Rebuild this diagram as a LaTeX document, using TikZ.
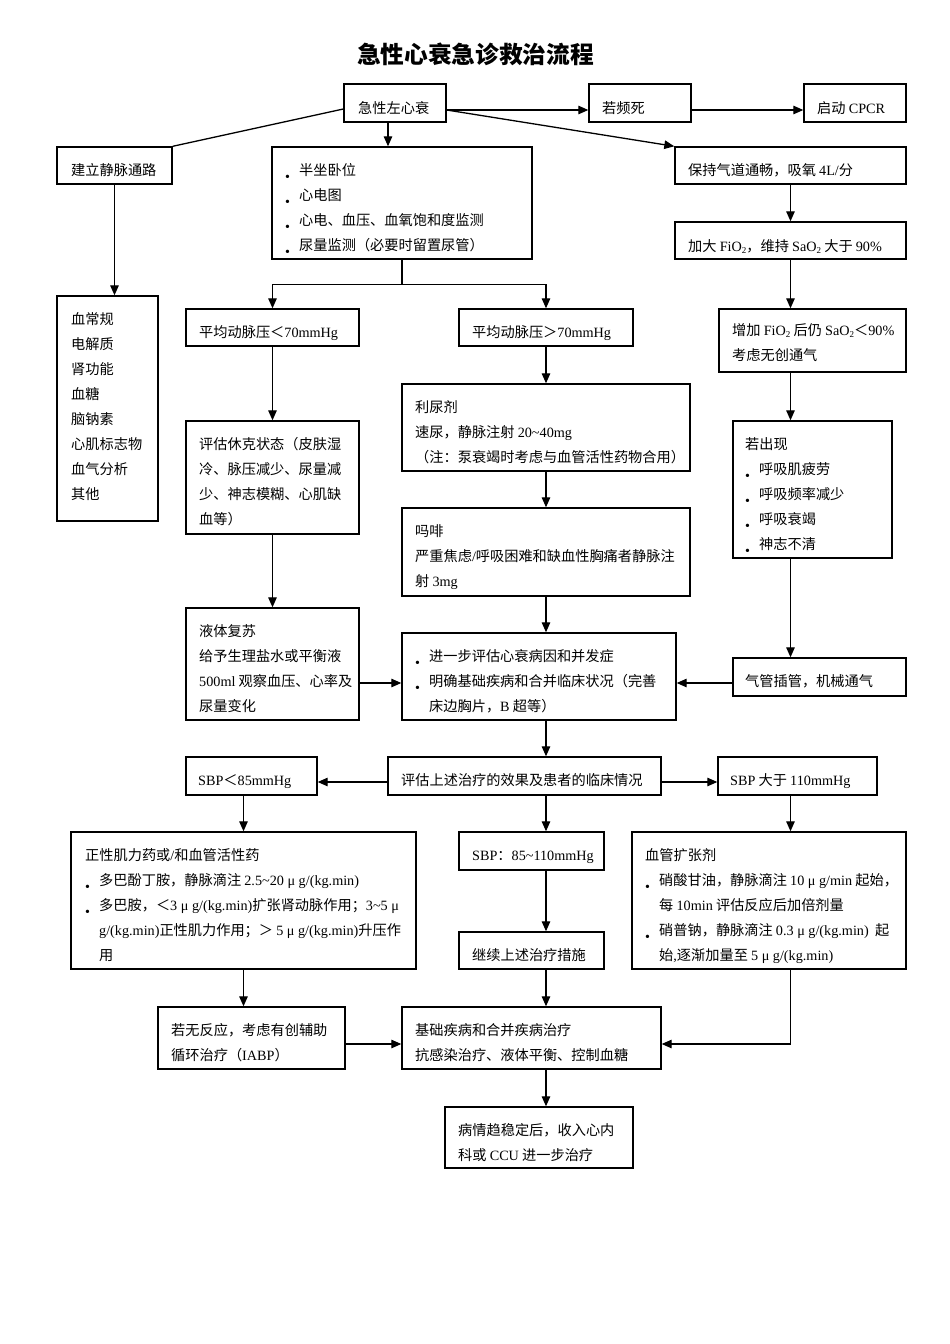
\documentclass[tikz,border=0pt]{standalone}
\usepackage{fontspec}
\setmainfont{Noto Sans CJK SC}
\newfontfamily\enfont{Liberation Serif}
\usetikzlibrary{arrows.meta,calc}
\newcommand\ltn[1]{{\enfont #1}}
\newcommand\sub[1]{\raisebox{-2.5pt}{\fontsize{9}{9}\selectfont #1}}
\newcommand\fsz{\fontsize{14.2pt}{25pt}\selectfont}
\newcommand\bu{\makebox[14pt][l]{\raisebox{-6.5pt}{\ltn{\fontsize{14}{14}\selectfont •}}}}
\newcommand\ind{\makebox[14pt]{}}
\newcommand\tld{\textasciitilde}
\tikzset{
  boxs/.style={draw, line width=1.4pt, rectangle, inner sep=0pt},
  txt/.style={anchor=base west, inner sep=0pt, align=left, font=\fsz},
  ln/.style={line width=1.3pt},
  arr/.style={line width=1.3pt, -{Triangle[length=10pt,width=8.5pt]}},
}
\newcommand\bx[5]{\node[boxs, minimum width={(#4-#2)*1pt}, minimum height={(#5-#3)*1pt}] (#1) at ({(#2+#4)/2},{(#3+#5)/2}) {};}
% name, x, y of first baseline, number of lines, text (node base = last baseline)
\newcommand\tx[5]{\node[txt] (#1) at (#2,{#3+(#4-1)*25}) {#5};}
\begin{document}
\begin{tikzpicture}[x=1pt,y=-1pt]
\fill[white] (0,0) rectangle (950,1344);
\useasboundingbox (0,0) rectangle (950,1344);
\node[anchor=base, inner sep=0pt] (title) at (475.5,63) {\fontsize{23.7pt}{28pt}\selectfont\bfseries 急性心衰急诊救治流程};
% boxes
\bx{A}{344}{84}{446}{122}
\bx{B}{589}{84}{691}{122}
\bx{C}{804}{84}{906}{122}
\bx{D}{57}{147}{172}{184}
\bx{E}{272}{147}{532}{259}
\bx{F}{675}{147}{906}{184}
\bx{G}{675}{222}{906}{259}
\bx{H}{57}{296}{158}{521}
\bx{I}{186}{309}{359}{346}
\bx{J}{459}{309}{633}{346}
\bx{K}{719}{309}{906}{372}
\bx{L}{402}{384}{690}{471}
\bx{M}{186}{421}{359}{534}
\bx{N}{733}{421}{892}{558}
\bx{O}{402}{508}{690}{596}
\bx{P}{186}{608}{359}{720}
\bx{Q}{402}{633}{676}{720}
\bx{R}{733}{658}{906}{696}
\bx{S}{388}{757}{661}{795}
\bx{T}{186}{757}{317}{795}
\bx{U}{718}{757}{877}{795}
\bx{V}{71}{832}{416}{969}
\bx{W}{459}{832}{604}{870}
\bx{X}{632}{832}{906}{969}
\bx{Y}{459}{932}{604}{969}
\bx{Z}{158}{1007}{345}{1069}
\bx{AA}{402}{1007}{661}{1069}
\bx{AB}{445}{1107}{633}{1168}
% texts
\tx{tA}{358}{113}{1}{急性左心衰}
\tx{tB}{602}{113}{1}{若频死}
\tx{tC}{817}{113}{1}{启动 \ltn{CPCR}}
\tx{tD}{71}{175}{1}{建立静脉通路}
\tx{tE}{285}{175}{4}{\bu 半坐卧位\\ \bu 心电图\\ \bu 心电、血压、血氧饱和度监测\\ \bu 尿量监测（必要时留置尿管）}
\tx{tF}{688}{175}{1}{保持气道通畅，吸氧 \ltn{4L/}分}
\tx{tG}{688}{251}{1}{加大 \ltn{FiO\sub{2}}，维持 \ltn{SaO\sub{2}} 大于 \ltn{90\%}}
\tx{tH}{71}{324}{8}{血常规\\电解质\\肾功能\\血糖\\脑钠素\\心肌标志物\\血气分析\\其他}
\tx{tI}{199}{337}{1}{平均动脉压＜\ltn{70mmHg}}
\tx{tJ}{472}{337}{1}{平均动脉压＞\ltn{70mmHg}}
\tx{tK}{732}{335}{2}{增加 \ltn{FiO\sub{2}} 后仍 \ltn{SaO\sub{2}}＜\ltn{90\%}\\考虑无创通气}
\tx{tL}{415}{412}{3}{利尿剂\\速尿，静脉注射 \ltn{20\tld40mg}\\（注：泵衰竭时考虑与血管活性药物合用）}
\tx{tM}{199}{449}{4}{评估休克状态（皮肤湿\\冷、脉压减少、尿量减\\少、神志模糊、心肌缺\\血等）}
\tx{tN}{745}{449}{5}{若出现\\ \bu 呼吸肌疲劳\\ \bu 呼吸频率减少\\ \bu 呼吸衰竭\\ \bu 神志不清}
\tx{tO}{415}{536}{3}{吗啡\\严重焦虑\ltn{/}呼吸困难和缺血性胸痛者静脉注\\射 \ltn{3mg}}
\tx{tP}{199}{636}{4}{液体复苏\\给予生理盐水或平衡液\\\ltn{500ml} 观察血压、心率及\\尿量变化}
\tx{tQ}{415}{661}{3}{\bu 进一步评估心衰病因和并发症\\ \bu 明确基础疾病和合并临床状况（完善\\ \ind 床边胸片，\ltn{B} 超等）}
\tx{tR}{745}{686}{1}{气管插管，机械通气}
\tx{tS}{401}{785}{1}{评估上述治疗的效果及患者的临床情况}
\tx{tT}{198}{785}{1}{\ltn{SBP}＜\ltn{85mmHg}}
\tx{tU}{730}{785}{1}{\ltn{SBP} 大于 \ltn{110mmHg}}
\tx{tV}{85}{860}{5}{正性肌力药或\ltn{/}和血管活性药\\ \bu 多巴酚丁胺，静脉滴注 \ltn{2.5\tld20 μ g/(kg.min)}\\ \bu 多巴胺，＜\ltn{3 μ g/(kg.min)}扩张肾动脉作用；\ltn{3\tld5 μ}\\ \ind \ltn{g/(kg.min)}正性肌力作用；＞ \ltn{5 μ g/(kg.min)}升压作\\ \ind 用}
\tx{tW}{472}{860}{1}{\ltn{SBP}：\ltn{85\tld110mmHg}}
\tx{tX}{645}{860}{5}{血管扩张剂\\ \bu 硝酸甘油，静脉滴注 \ltn{10 μ g/min} 起始，\\ \ind 每 \ltn{10min} 评估反应后加倍剂量\\ \bu 硝普钠，静脉滴注 \ltn{0.3 μ g/(kg.min)} \ 起\\ \ind 始\ltn{,}逐渐加量至 \ltn{5 μ g/(kg.min)}}
\tx{tY}{472}{960}{1}{继续上述治疗措施}
\tx{tZ}{171}{1035}{2}{若无反应，考虑有创辅助\\循环治疗（\ltn{IABP}）}
\tx{tAA}{415}{1035}{2}{基础疾病和合并疾病治疗\\抗感染治疗、液体平衡、控制血糖}
\tx{tAB}{458}{1135}{2}{病情趋稳定后，收入心内\\科或 \ltn{CCU} 进一步治疗}
% connectors
\coordinate (ae) at ([yshift=-7pt]A.east);
\draw[arr] (ae) -- (ae -| B.west);
\draw[arr] (ae -| B.east) -- (ae -| C.west);
\draw[arr] (ae) -- (F.north west);
\draw[ln] ([yshift=-6pt]A.west) -- (D.north east);
\coordinate (as) at ([xshift=-7pt]A.south);
\draw[arr] (as) -- (as |- E.north);
\draw[arr] (D.south) -- (D.south |- H.north);
\coordinate (s1) at ([yshift=-25pt]E.south);
\draw[ln] (E.south) -- (s1);
\draw[arr] (s1) -| (I.north);
\draw[arr] (s1) -| (J.north);
\draw[arr] (F.south) -- (G.north);
\draw[arr] (G.south) -- (G.south |- K.north);
\draw[arr] (I.south) -- (M.north);
\draw[arr] (M.south) -- (P.north);
\coordinate (qw) at ([yshift=-6.5pt]Q.west);
\draw[arr] (P.east |- qw) -- (qw);
\draw[arr] (J.south) -- (L.north);
\draw[arr] (L.south) -- (O.north);
\draw[arr] (O.south) -- (O.south |- Q.north);
\draw[arr] (K.south -| F.south) -- (N.north -| F.south);
\draw[arr] (N.south -| F.south) -- (R.north -| F.south);
\draw[arr] (R.west |- qw) -- (Q.east |- qw);
\draw[arr] (Q.south -| J.south) -- (S.north -| J.south);
\coordinate (sw) at ([yshift=-6pt]S.west);
\draw[arr] (sw) -- (sw -| T.east);
\draw[arr] (S.east |- sw) -- (U.west |- sw);
\draw[arr] (V.north |- T.south) -- (V.north);
\draw[arr] (S.south -| J.south) -- (W.north -| J.south);
\draw[arr] (U.south -| F.south) -- (X.north -| F.south);
\draw[arr] (V.south) -- (V.south |- Z.north);
\draw[arr] (W.south -| J.south) -- (Y.north -| J.south);
\draw[arr] (Y.south -| J.south) -- (AA.north -| J.south);
\coordinate (aw) at ([yshift=-6pt]AA.west);
\draw[arr] (Z.east |- aw) -- (aw);
\draw[arr] (X.south -| F.south) |- (AA.east |- aw);
\draw[arr] (AA.south -| J.south) -- (AB.north -| J.south);
\end{tikzpicture}
\end{document}
